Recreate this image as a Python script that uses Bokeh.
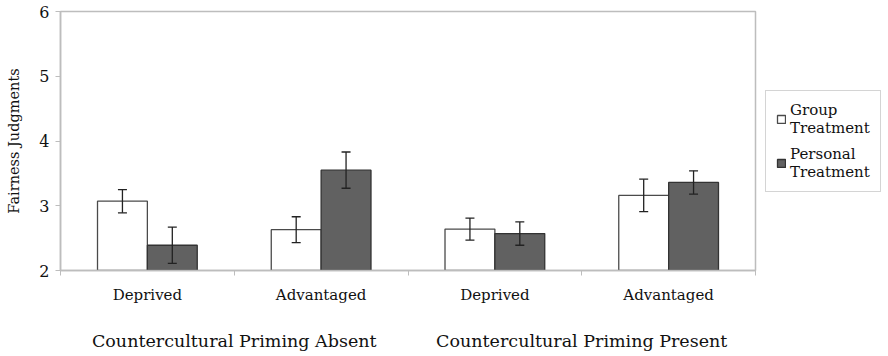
from bokeh.plotting import figure
from bokeh.models import (ColumnDataSource, Range1d, FixedTicker, LinearAxis, Whisker,
                          TeeHead, Legend, LegendItem)
from bokeh.embed import file_html
from bokeh.resources import INLINE

conditions = ["Deprived", "Advantaged", "Deprived", "Advantaged"]
priming = ["Countercultural Priming Absent", "Countercultural Priming Present"]
series_names = ["Group\nTreatment", "Personal\nTreatment"]
group_means = [3.07, 2.63, 2.64, 3.16]
group_err = [0.18, 0.20, 0.17, 0.25]
personal_means = [2.39, 3.55, 2.57, 3.36]
personal_err = [0.28, 0.28, 0.18, 0.18]
y_ticks = [2, 3, 4, 5, 6]

FONT = "DejaVu Serif"
BAR_W = 0.287
n = len(conditions)
centers = [i + 0.5 for i in range(n)]

p = figure(frame_width=695, frame_height=259, output_backend="svg", toolbar_location=None,
           x_range=Range1d(0, n), y_range=Range1d(2, 6),
           min_border_left=60, min_border_top=11, min_border_right=0, min_border_bottom=80)
p.background_fill_color = "white"
p.border_fill_color = "white"
p.outline_line_color = "#bdbdbd"
p.outline_line_width = 1.5
p.xgrid.visible = False
p.ygrid.visible = False

def make_src(means, errs, offset):
    return ColumnDataSource(dict(
        x=[c + offset for c in centers],
        top=means,
        upper=[m + e for m, e in zip(means, errs)],
        lower=[m - e for m, e in zip(means, errs)],
    ))

src_g = make_src(group_means, group_err, -BAR_W / 2)
src_p = make_src(personal_means, personal_err, BAR_W / 2)

r_g = p.vbar(x="x", top="top", bottom=2, width=BAR_W, source=src_g,
             fill_color="white", line_color="#4a4a4a", line_width=1.3)
r_p = p.vbar(x="x", top="top", bottom=2, width=BAR_W, source=src_p,
             fill_color="#616161", line_color="#333333", line_width=1.3)

for src in (src_g, src_p):
    w = Whisker(base="x", upper="upper", lower="lower", source=src, level="overlay",
                line_color="#222222", line_width=1.3,
                upper_head=TeeHead(size=9, line_color="#222222", line_width=1.3),
                lower_head=TeeHead(size=9, line_color="#222222", line_width=1.3))
    p.add_layout(w)

# y axis
ya = p.yaxis[0]
ya.ticker = FixedTicker(ticks=y_ticks, minor_ticks=[])
ya.axis_line_color = "#bdbdbd"
ya.axis_line_width = 1.5
ya.major_tick_line_color = "#bdbdbd"
ya.major_tick_out = 5
ya.major_tick_in = 0
ya.minor_tick_line_color = None
ya.major_label_text_font = FONT
ya.major_label_text_font_size = "16px"
ya.major_label_text_color = "#111111"
ya.major_label_standoff = 6
ya.axis_label = "Fairness Judgments"
ya.axis_label_text_font = FONT
ya.axis_label_text_font_size = "14.5px"
ya.axis_label_text_font_style = "normal"
ya.axis_label_text_color = "#111111"
ya.axis_label_standoff = 14

# x axis (condition labels, boundary ticks)
xa = p.xaxis[0]
xa.ticker = FixedTicker(ticks=centers, minor_ticks=list(range(n + 1)))
xa.major_label_overrides = {c: lab for c, lab in zip(centers, conditions)}
xa.axis_line_color = "#bdbdbd"
xa.axis_line_width = 1.5
xa.major_tick_line_color = None
xa.major_tick_out = 5
xa.major_tick_in = 0
xa.minor_tick_line_color = "#bdbdbd"
xa.minor_tick_out = 5
xa.minor_tick_in = 0
xa.major_label_text_font = FONT
xa.major_label_text_font_size = "15px"
xa.major_label_text_color = "#111111"
xa.major_label_standoff = 10

# second x axis (priming group labels)
grp_centers = [1.0, 3.0]
xa2 = LinearAxis(ticker=FixedTicker(ticks=grp_centers, minor_ticks=[]))
xa2.major_label_overrides = {c: lab for c, lab in zip(grp_centers, priming)}
xa2.axis_line_color = None
xa2.major_tick_line_color = None
xa2.major_tick_out = 0
xa2.major_tick_in = 0
xa2.minor_tick_line_color = None
xa2.major_label_text_font = FONT
xa2.major_label_text_font_size = "17.5px"
xa2.major_label_text_color = "#111111"
xa2.major_label_standoff = 24
p.add_layout(xa2, "below")

legend = Legend(items=[LegendItem(label=series_names[0], renderers=[r_g]),
                       LegendItem(label=series_names[1], renderers=[r_p])],
                location="left")
legend.label_text_font = FONT
legend.label_text_font_size = "15px"
legend.label_text_color = "#111111"
legend.label_text_line_height = 1.25
legend.glyph_width = 10
legend.glyph_height = 10
legend.label_standoff = 4
legend.padding = 10
legend.spacing = 8
legend.margin = 10
legend.border_line_color = "#aaaaaa"
legend.border_line_width = 1.5
legend.background_fill_color = "white"
p.add_layout(legend, "right")

open("out.html", "w").write(file_html(p, INLINE))
